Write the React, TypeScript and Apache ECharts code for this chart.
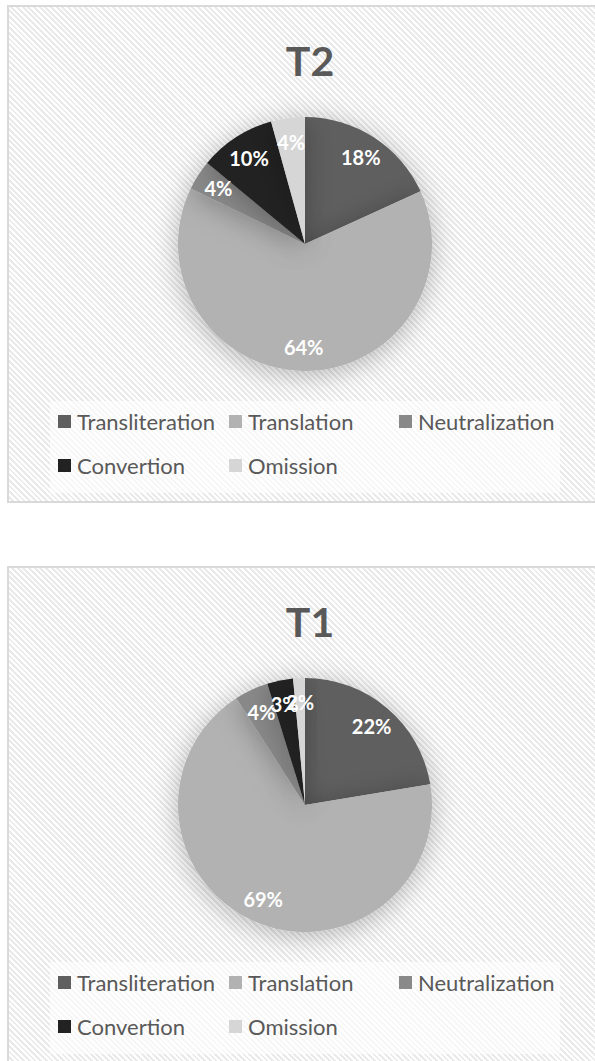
import React, { useEffect, useRef } from "react";
import * as echarts from "echarts";

const categories = ["Transliteration", "Translation", "Neutralization", "Convertion", "Omission"];
const t2Values = [18.2, 64.0, 3.8, 9.7, 4.3];
const t1Values = [22.4, 68.5, 4.3, 3.3, 1.5];
const colors = ["#5f5f5f", "#b2b2b2", "#898989", "#222222", "#d6d6d6"];
const panelTitles = ["T2", "T1"];
const panelValues = [t2Values, t1Values];
const legendColumns = [
  ["Transliteration", "Convertion"],
  ["Translation", "Omission"],
  ["Neutralization"],
];

const PANEL_TOPS = [5, 566];
const COL_X = [58, 229, 399];
const FONT = "Lato, 'Open Sans', sans-serif";

function buildOption() {
  const title: any[] = [];
  const legend: any[] = [];
  const series: any[] = [];
  const graphic: any[] = [];
  PANEL_TOPS.forEach((top, p) => {
    const data = categories.map((name, i) => ({
      name,
      value: panelValues[p][i],
      itemStyle: { color: colors[i] },
    }));
    title.push({
      text: panelTitles[p],
      left: 305,
      top: top + 30,
      textAlign: "center",
      textStyle: { fontFamily: FONT, fontWeight: "bold", fontSize: 41, color: "#595959" },
    });
    graphic.push({
      type: "rect",
      z: -1,
      shape: { x: 50, y: top + 396, width: 510, height: 92 },
      style: { fill: "rgba(255,255,255,0.6)" },
      silent: true,
    });
    legendColumns.forEach((col, c) => {
      legend.push({
        orient: "vertical",
        left: COL_X[c],
        top: top + 405,
        padding: 0,
        itemWidth: 13,
        itemHeight: 13,
        itemGap: 21,
        icon: "rect",
        selectedMode: false,
        textStyle: {
          fontFamily: FONT,
          fontSize: 22,
          lineHeight: 23,
          color: "#595959",
          padding: [0, 0, 0, 1],
        },
        data: col.map((name) => ({
          name,
          itemStyle: { color: colors[categories.indexOf(name)] },
        })),
      });
    });
    series.push({
      type: "pie",
      name: panelTitles[p],
      center: [305, top + 239],
      radius: [0, 127],
      startAngle: 90,
      clockwise: true,
      avoidLabelOverlap: false,
      label: { show: false },
      labelLine: { show: false },
      emphasis: { disabled: true },
      itemStyle: {
        shadowBlur: 28,
        shadowColor: "rgba(0,0,0,0.28)",
        shadowOffsetY: 4,
      },
      data,
    });
    series.push({
      type: "pie",
      name: panelTitles[p] + " labels",
      center: [305, top + 239],
      radius: [73, 127],
      startAngle: 90,
      clockwise: true,
      silent: true,
      avoidLabelOverlap: false,
      emphasis: { disabled: true },
      itemStyle: { color: "rgba(0,0,0,0)" },
      labelLayout: { hideOverlap: false },
      label: {
        show: true,
        position: "inside",
        formatter: (prm: any) => Math.round(prm.value) + "%",
        color: "#ffffff",
        fontFamily: FONT,
        fontWeight: "bold",
        fontSize: 20,
      },
      labelLine: { show: false },
      data: categories.map((name, i) => ({ name, value: panelValues[p][i] })),
    });
  });
  return { animation: false, backgroundColor: "transparent", title, legend, series, graphic };
}

const boxStyle = (top: number): React.CSSProperties => ({
  position: "absolute",
  left: 7,
  top,
  width: 600,
  height: 498,
  boxSizing: "border-box",
  border: "2px solid #d9d9d9",
  background:
    "repeating-linear-gradient(45deg, #ffffff 0px, #ffffff 2px, #eaeaea 2px, #eaeaea 4px)",
});

export default function App() {
  const ref = useRef<HTMLDivElement>(null);
  useEffect(() => {
    if (!ref.current) return;
    const chart = echarts.init(ref.current, undefined, { renderer: "svg" });
    chart.setOption(buildOption());
    return () => chart.dispose();
  }, []);
  return (
    <div
      style={{
        position: "absolute",
        left: 0,
        top: 0,
        width: 595,
        height: 1061,
        overflow: "hidden",
        background: "#ffffff",
      }}
    >
      <div style={boxStyle(PANEL_TOPS[0])} />
      <div style={{ ...boxStyle(PANEL_TOPS[1]), height: 520 }} />
      <div ref={ref} style={{ position: "absolute", left: 0, top: 0, width: 595, height: 1061 }} />
    </div>
  );
}
